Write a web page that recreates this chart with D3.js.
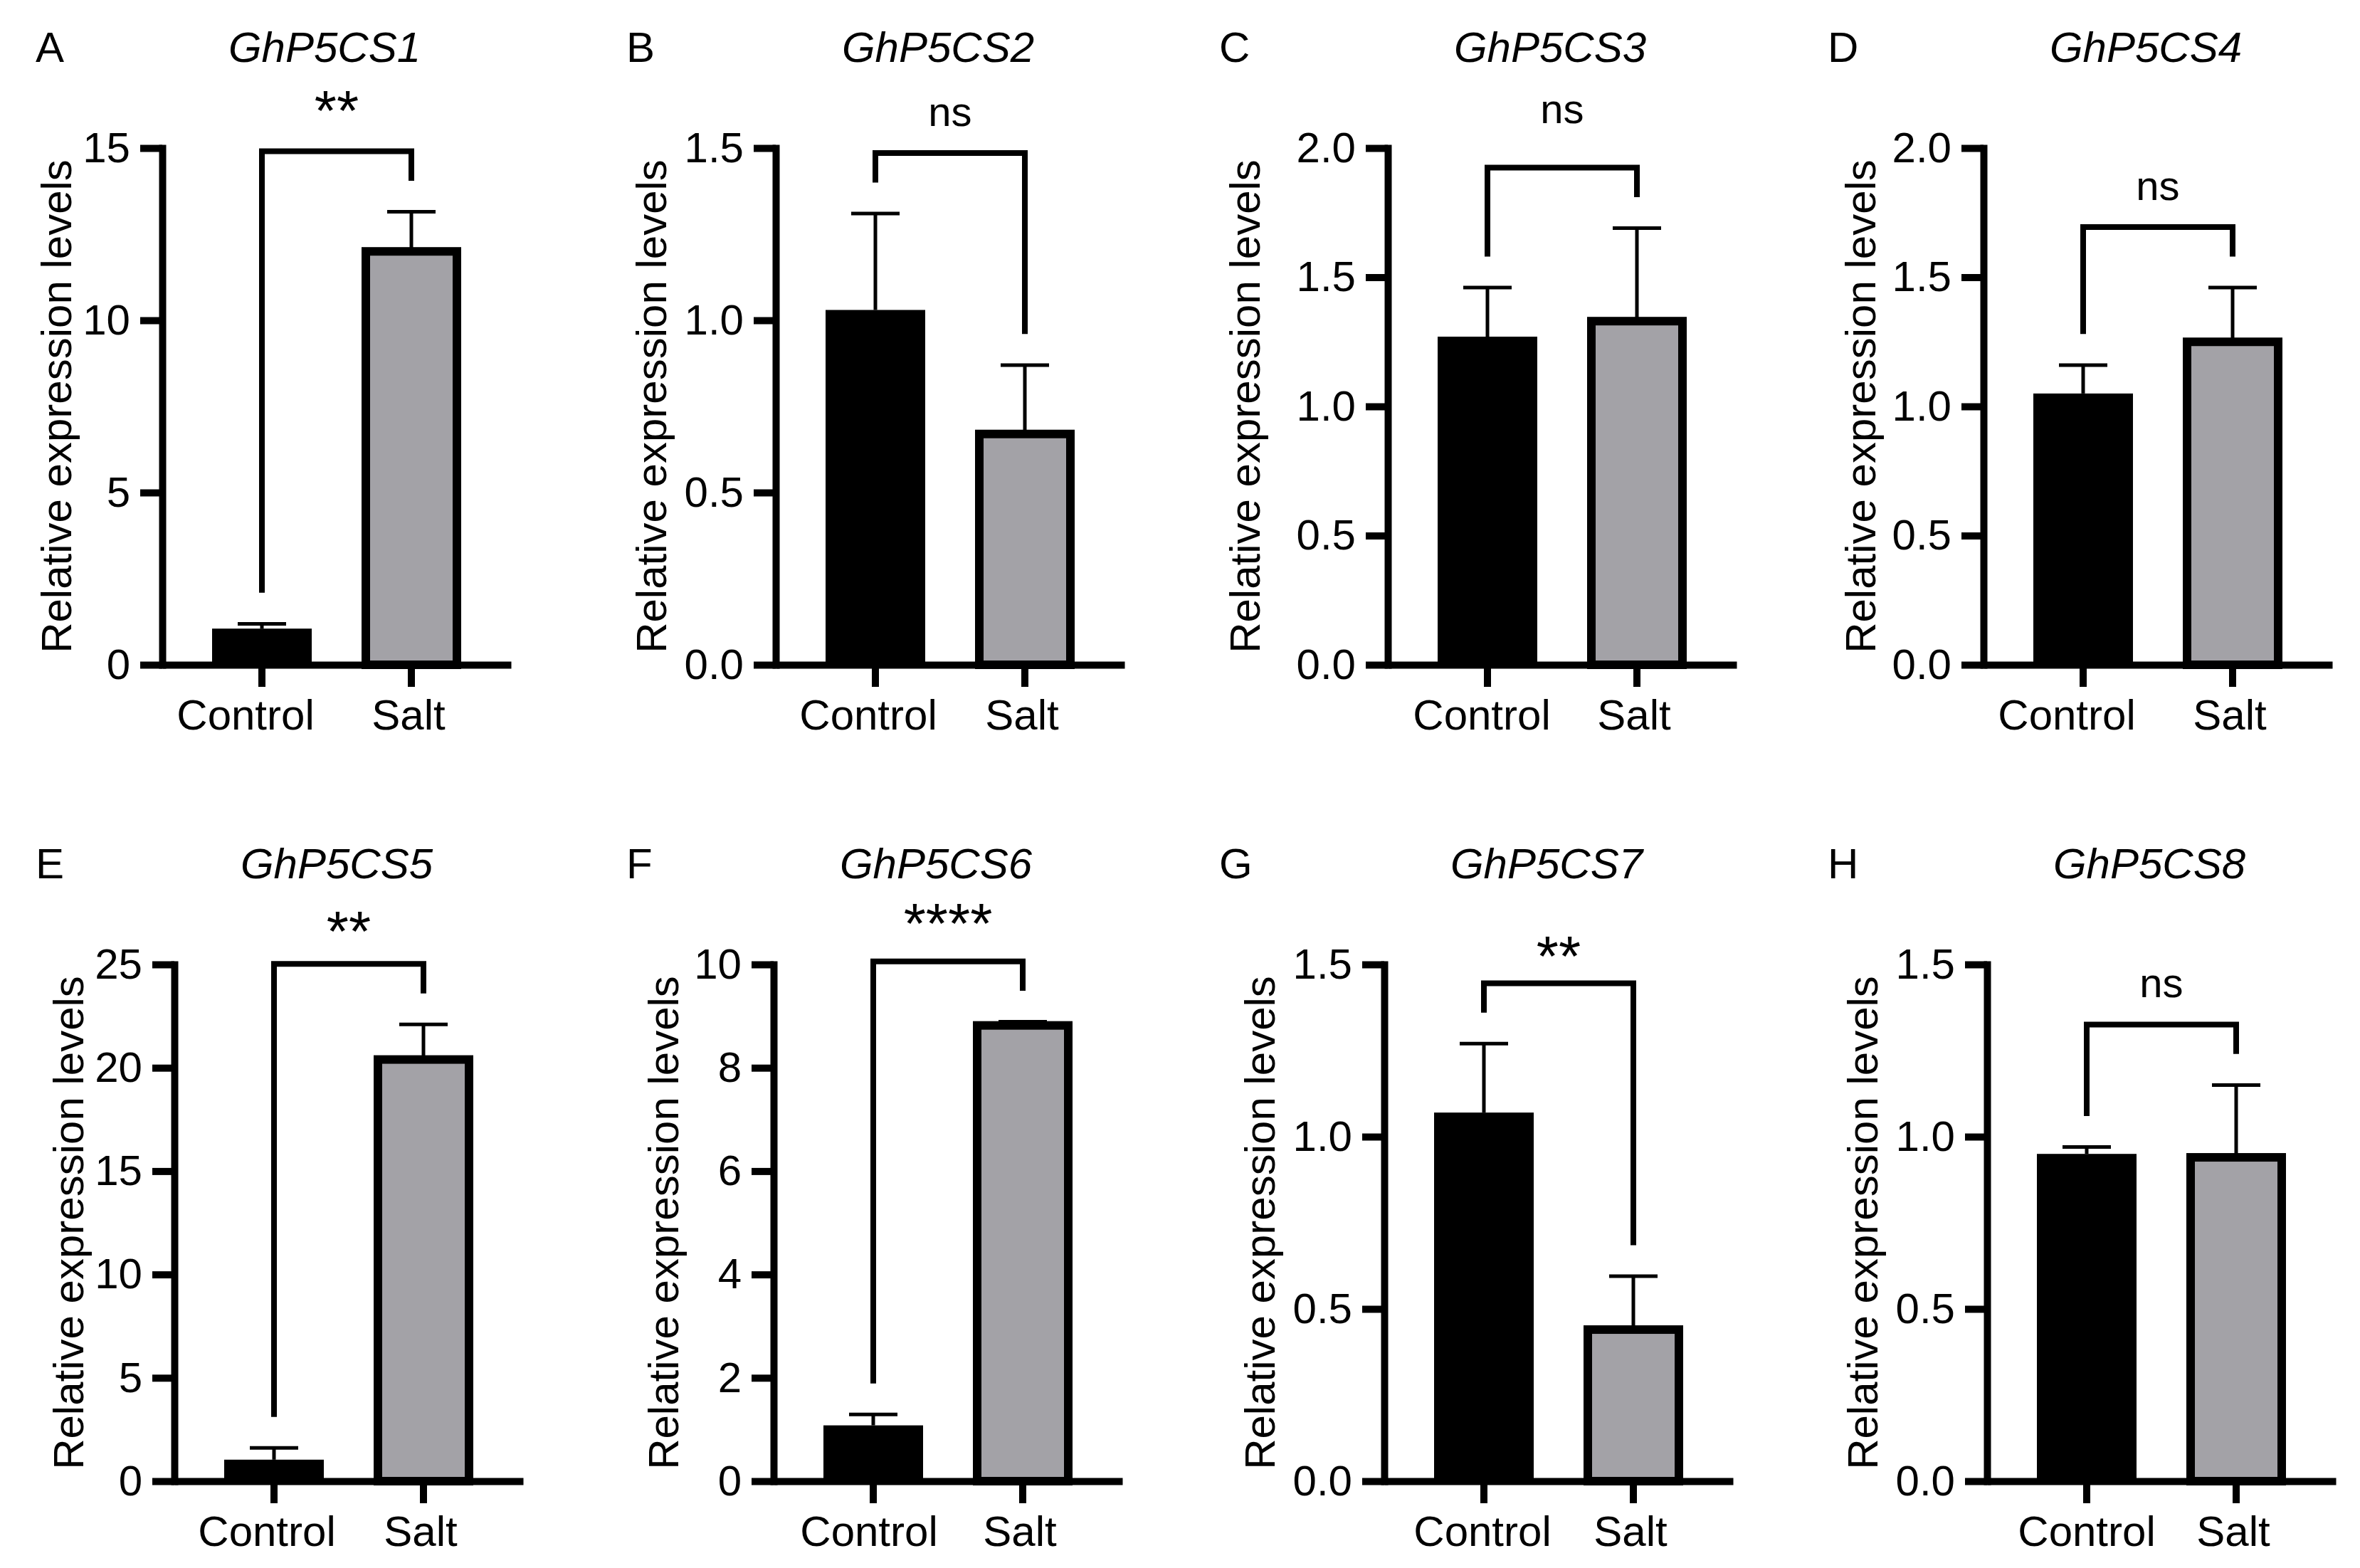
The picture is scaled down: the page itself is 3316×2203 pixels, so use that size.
<!DOCTYPE html>
<html>
<head>
<meta charset="utf-8">
<script src="https://cdn.jsdelivr.net/npm/d3@7"></script>
<style>
  body { margin: 0; background: #fff; }
  svg text { font-family: "Liberation Sans", Arial, sans-serif; fill: #000; }
</style>
</head>
<body>
<svg id="chart" width="3316" height="2203"></svg>
<script>
// values (mean and upper SD of each bar)
var panelLetters = ["A", "B", "C", "D", "E", "F", "G", "H"];
var genes = ["GhP5CS1", "GhP5CS2", "GhP5CS3", "GhP5CS4", "GhP5CS5", "GhP5CS6", "GhP5CS7", "GhP5CS8"];
var groups = ["Control", "Salt"];
var controlMean = [1.05, 1.03, 1.27, 1.05, 1.04, 1.08, 1.07, 0.95];
var controlSD = [0.14, 0.28, 0.19, 0.11, 0.57, 0.21, 0.20, 0.02];
var saltMean = [12.0, 0.67, 1.33, 1.25, 20.4, 8.82, 0.44, 0.94];
var saltSD = [1.15, 0.20, 0.36, 0.21, 1.7, 0.07, 0.155, 0.21];
var sigLabels = ["**", "ns", "ns", "ns", "**", "****", "**", "ns"];
var yTicks = [
	[0, 5, 10, 15],
	[0, 0.5, 1.0, 1.5],
	[0, 0.5, 1.0, 1.5, 2.0],
	[0, 0.5, 1.0, 1.5, 2.0],
	[0, 5, 10, 15, 20, 25],
	[0, 2, 4, 6, 8, 10],
	[0, 0.5, 1.0, 1.5],
	[0, 0.5, 1.0, 1.5]
];
var tickDecimals = [0, 1, 1, 1, 0, 0, 1, 1];
var yTitle = "Relative expression levels";

// layout
var W = 3316, H = 2203;
var axisX = [228, 1090, 1950, 2787, 245, 1087, 1945, 2792];
var letterX = [50, 880, 1713, 2568];
var rowTop = [208, 1355], rowBase = [934, 2081], rowTitle = [87, 1234];
var plotW = 490, tickLen = 31, fs = 60;
var grey = "#a3a2a7";
//small hand placements seen in the figure
var yTitleShift = [0, -10, -36, -8, 0, -6, -10, -10];
var ctrlLabelShift = [-23, -10, -8, -23, -10, -6, -2, 0];
var sigLift = [20, 0, 25, 0, 8, 16, 0, 0];

var svg = d3.select("#chart");
svg.append("rect").attr("width", W).attr("height", H).attr("fill", "#fff");

genes.forEach(function(gene, i) {
	var row = Math.floor(i / 4), col = i % 4;
	var x0 = axisX[i], top = rowTop[row], base = rowBase[row];
	var yMax = d3.max(yTicks[i]);
	var y = d3.scaleLinear().domain([0, yMax]).range([base, top]);
	var x = d3.scaleBand().domain(groups).range([x0, x0 + plotW]).padding(1 / 3);
	var bw = x.bandwidth();
	var means = [controlMean[i], saltMean[i]];
	var sds = [controlSD[i], saltSD[i]];
	var g = svg.append("g");

	//error bars (upper half only)
	var err = g.append("g").selectAll("g").data(groups).join("g");
	err.append("line")
		.attr("x1", function(d) { return x(d) + bw / 2; })
		.attr("x2", function(d) { return x(d) + bw / 2; })
		.attr("y1", function(d, k) { return y(means[k]); })
		.attr("y2", function(d, k) { return y(means[k] + sds[k]); })
		.attr("stroke", "#000").attr("stroke-width", 5);
	err.append("line")
		.attr("x1", function(d) { return x(d) + bw / 2 - 34; })
		.attr("x2", function(d) { return x(d) + bw / 2 + 34; })
		.attr("y1", function(d, k) { return y(means[k] + sds[k]); })
		.attr("y2", function(d, k) { return y(means[k] + sds[k]); })
		.attr("stroke", "#000").attr("stroke-width", 5);

	//bars
	g.append("rect")
		.attr("x", x("Control")).attr("width", bw)
		.attr("y", y(means[0])).attr("height", base - y(means[0]))
		.attr("fill", "#000");
	g.append("rect")
		.attr("x", x("Salt") + 6).attr("width", bw - 12)
		.attr("y", y(means[1])).attr("height", base - y(means[1]))
		.attr("fill", grey).attr("stroke", "#000").attr("stroke-width", 12);

	//axes
	var yAxis = g.append("g")
		.attr("transform", "translate(" + x0 + ",0)")
		.call(d3.axisLeft(y)
			.tickValues(yTicks[i])
			.tickFormat(d3.format(tickDecimals[i] ? ".1f" : "d"))
			.tickSize(tickLen).tickSizeOuter(0).tickPadding(14));
	var xAxis = g.append("g")
		.attr("transform", "translate(0," + base + ")")
		.call(d3.axisBottom(x).tickSize(tickLen).tickSizeOuter(0).tickPadding(17));
	[yAxis, xAxis].forEach(function(a) {
		a.attr("font-size", fs).attr("font-family", null);
		a.selectAll("line").attr("stroke-width", 10);
		a.select(".domain").attr("stroke-width", 10);
	});
	yAxis.select(".domain").attr("stroke-linecap", "square");
	xAxis.selectAll(".tick text")
		.attr("dx", function(d) { return d == "Control" ? ctrlLabelShift[i] : -4; });

	var maxW = d3.max(yAxis.selectAll("text").nodes(), function(n) { return n.getComputedTextLength(); });
	var lx = x0 - tickLen - 14 - maxW - 16 + yTitleShift[i];
	g.append("text")
		.attr("transform", "translate(" + lx + "," + ((top + base) / 2) + ") rotate(-90)")
		.attr("text-anchor", "middle")
		.attr("font-size", fs)
		.text(yTitle);

	//titles
	g.append("text")
		.attr("x", x0 + 228).attr("y", rowTitle[row])
		.attr("text-anchor", "middle").attr("font-size", fs).attr("font-style", "italic")
		.text(gene);
	g.append("text")
		.attr("x", letterX[col]).attr("y", rowTitle[row])
		.attr("font-size", fs)
		.text(panelLetters[i]);

	//significance bracket
	var cx0 = x("Control") + bw / 2, cx1 = x("Salt") + bw / 2;
	var legL = means[0] + sds[0] + 0.06 * yMax;
	var legR = means[1] + sds[1] + 0.06 * yMax;
	var barY = Math.max(legL, legR) + 0.057 * yMax;
	g.append("path")
		.attr("d", "M" + cx0 + "," + y(legL) + "V" + y(barY) + "H" + cx1 + "V" + y(legR))
		.attr("fill", "none").attr("stroke", "#000").attr("stroke-width", 8)
		.attr("stroke-linejoin", "miter");
	var isStar = sigLabels[i] != "ns";
	g.append("text")
		.attr("x", (cx0 + cx1) / 2)
		.attr("y", y(barY) - (isStar ? 10 : 38) - sigLift[i])
		.attr("text-anchor", "middle")
		.attr("font-size", isStar ? 80 : 58)
		.text(sigLabels[i]);
});
</script>
</body>
</html>
